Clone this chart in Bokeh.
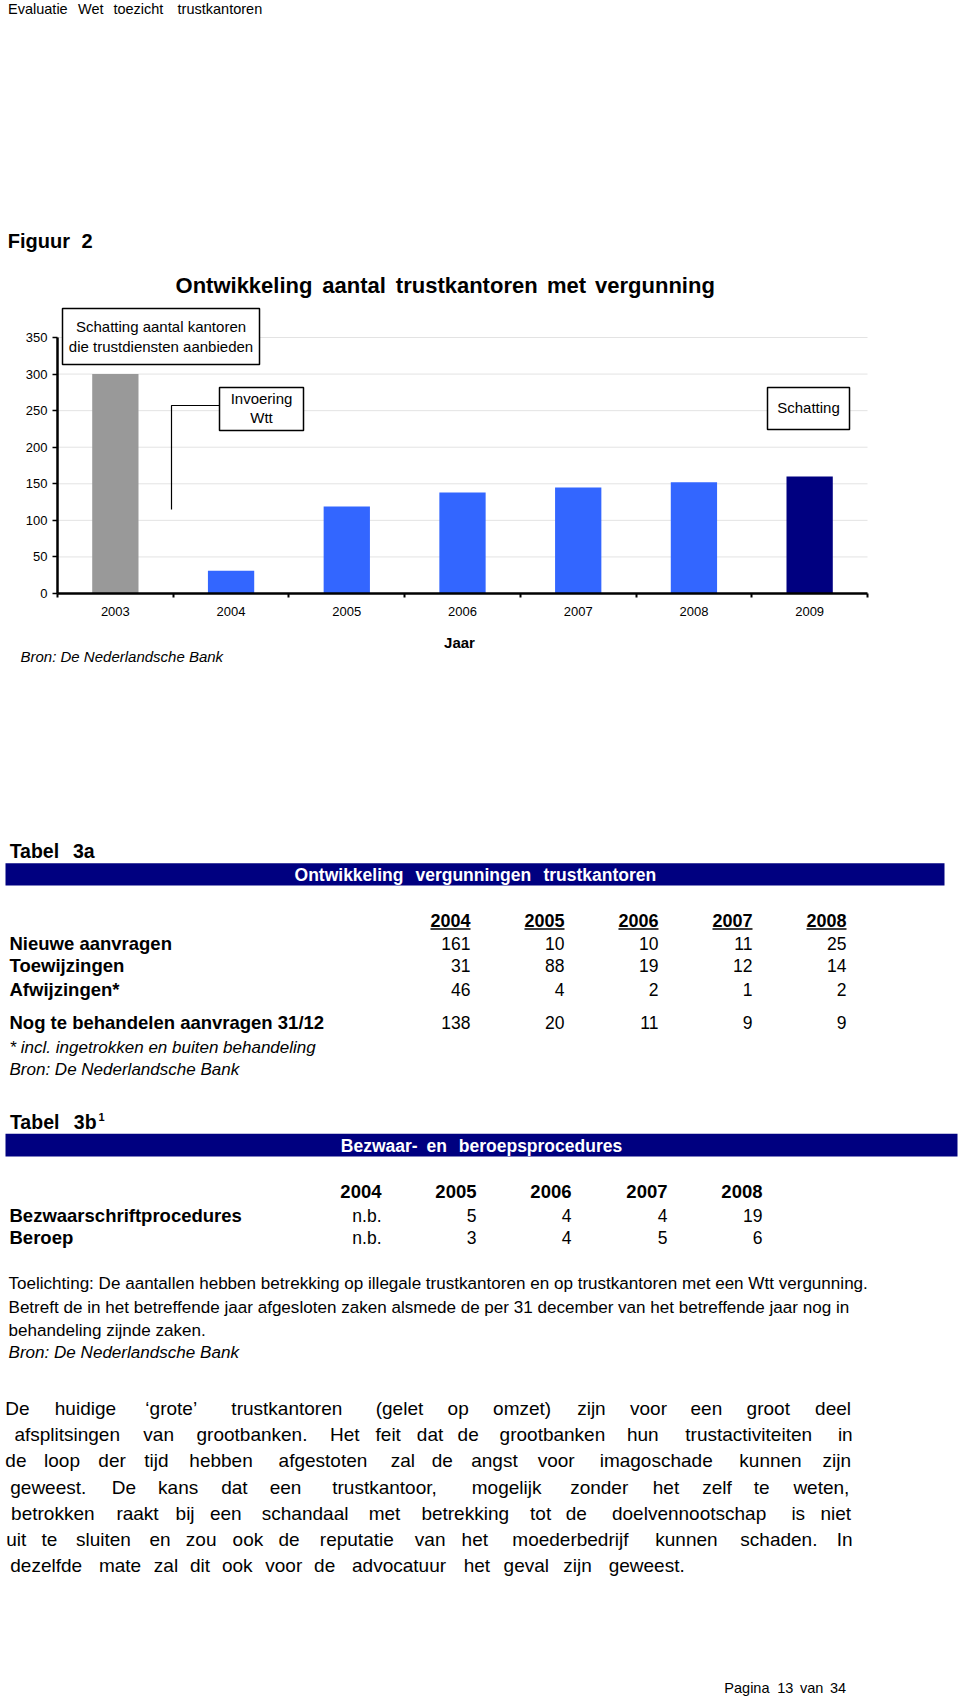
from bokeh.plotting import figure
from bokeh.models import Range1d, FixedTicker, ColumnDataSource, LinearAxis
from bokeh.core.properties import value
from bokeh.embed import file_html
from bokeh.resources import INLINE

FONT = "Liberation Sans"

# ---------------- data ----------------
years = ["2003", "2004", "2005", "2006", "2007", "2008", "2009"]
counts = [300, 31, 119, 138, 145, 152, 160]
bar_colors = ["#999999", "#3366FF", "#3366FF", "#3366FF", "#3366FF", "#3366FF", "#000080"]
y_ticks = [0, 50, 100, 150, 200, 250, 300, 350]

t3a_years = ["2004", "2005", "2006", "2007", "2008"]
t3a_labels = ["Nieuwe aanvragen", "Toewijzingen", "Afwijzingen*", "Nog te behandelen aanvragen 31/12"]
t3a_nieuwe = [161, 10, 10, 11, 25]
t3a_toewijzingen = [31, 88, 19, 12, 14]
t3a_afwijzingen = [46, 4, 2, 1, 2]
t3a_nog = [138, 20, 11, 9, 9]

t3b_years = ["2004", "2005", "2006", "2007", "2008"]
t3b_labels = ["Bezwaarschriftprocedures", "Beroep"]
t3b_bezwaar = ["n.b.", "5", "4", "4", "19"]
t3b_beroep = ["n.b.", "3", "4", "5", "6"]

body_lines = [
    "De huidige \u2018grote\u2019 trustkantoren (gelet op omzet) zijn voor een groot deel",
    "afsplitsingen van grootbanken. Het feit dat de grootbanken hun trustactiviteiten in",
    "de loop der tijd hebben afgestoten zal de angst voor imagoschade kunnen zijn",
    "geweest. De kans dat een trustkantoor, mogelijk zonder het zelf te weten,",
    "betrokken raakt bij een schandaal met betrekking tot de doelvennootschap is niet",
    "uit te sluiten en zou ook de reputatie van het moederbedrijf kunnen schaden. In",
    "dezelfde mate zal dit ook voor de advocatuur het geval zijn geweest.",
]
toelichting_lines = [
    "Toelichting: De aantallen hebben betrekking op illegale trustkantoren en op trustkantoren met een Wtt vergunning.",
    "Betreft de in het betreffende jaar afgesloten zaken alsmede de per 31 december van het betreffende jaar nog in",
    "behandeling zijnde zaken.",
]

# ---------------- font metrics (Arial / Liberation Sans) ----------------
REG = {' ': 278, '!': 278, '"': 355, "'": 191, '(': 333, ')': 333, '*': 389, ',': 278,
       '-': 333, '.': 278, '/': 278, ':': 278, ';': 278, '?': 556, '\u2018': 222, '\u2019': 222}
BOLD = {' ': 278, '*': 389, ',': 278, '-': 333, '.': 278, '/': 278, ':': 333, '(': 333, ')': 333}
for d in "0123456789":
    REG[d] = 556
    BOLD[d] = 556
for c, w in zip("ABCDEFGHIJKLMNOPQRSTUVWXYZ",
                [667, 667, 722, 722, 667, 611, 778, 722, 278, 500, 667, 556, 833, 722, 778, 667, 778, 722, 667, 611, 722, 667, 944, 667, 667, 611]):
    REG[c] = w
for c, w in zip("abcdefghijklmnopqrstuvwxyz",
                [556, 556, 500, 556, 556, 278, 556, 556, 222, 222, 500, 222, 833, 556, 556, 556, 556, 333, 500, 278, 556, 500, 722, 500, 500, 500]):
    REG[c] = w
for c, w in zip("ABCDEFGHIJKLMNOPQRSTUVWXYZ",
                [722, 722, 722, 722, 667, 611, 778, 722, 278, 556, 722, 611, 833, 722, 778, 667, 778, 722, 667, 611, 722, 667, 944, 667, 667, 611]):
    BOLD[c] = w
for c, w in zip("abcdefghijklmnopqrstuvwxyz",
                [556, 611, 556, 611, 556, 333, 611, 611, 278, 278, 556, 278, 889, 611, 611, 611, 611, 389, 556, 333, 611, 556, 778, 556, 556, 500]):
    BOLD[c] = w


def adv(ch, size, bold):
    return (BOLD if bold else REG).get(ch, 556) * size / 1000.0


def natural(text, size, bold=False):
    return sum(adv(c, size, bold) for c in text)


def tracked_words(text, x0, size, bold=False, x_end=None, track=None, justify_to=None):
    """Word centres for text set with letter-spacing `track` (and optional justification)."""
    words = text.split(" ")
    if track is None:
        track = (x_end - x0 - natural(text, size, bold)) / max(len(text) - 1, 1) if x_end is not None else 0.0
    wl = [natural(w, size, bold) + track * len(w) for w in words]
    sp = adv(" ", size, bold) + track
    total = sum(wl) + sp * (len(words) - 1) - track
    extra = 0.0
    if justify_to is not None and len(words) > 1:
        extra = (justify_to - x0 - total) / (len(words) - 1)
    centres = []
    x = x0
    for w, l in zip(words, wl):
        centres.append(x + (l - track) / 2.0)
        x += l + sp + extra
    return words, centres, track


W, H = 960, 1700
p = figure(width=W, height=H, x_range=Range1d(0, W), y_range=Range1d(H, 0),
           x_axis_type=None, y_axis_type=None, toolbar_location=None, output_backend="svg",
           min_border=0, min_border_left=0, min_border_right=0, min_border_top=0, min_border_bottom=0)
p.outline_line_color = None
p.background_fill_color = "white"
p.border_fill_color = "white"
p.title.visible = False


def put(xs, ys, texts, size, style="normal", align="left", baseline="middle", color="black"):
    src = ColumnDataSource(dict(x=list(xs), y=list(ys), t=list(texts)))
    p.text(x="x", y="y", text="t", source=src, text_font=value(FONT),
           text_font_size=value(f"{size}px"), text_font_style=value(style),
           text_align=value(align), text_baseline=value(baseline), text_color=value(color))


def put_words(text, x0, y, size, bold=False, baseline="middle", color="black", **kw):
    words, cs, tr = tracked_words(text, x0, size, bold=bold, **kw)
    put(cs, [y] * len(words), words, size, "bold" if bold else "normal", "center", baseline, color)
    return tr


# ---------------- page header ----------------
put_words("Evaluatie Wet toezicht trustkantoren", 4, 8.5, 14.5, x_end=267)
put_words("Figuur 2", 4, 240.5, 20, bold=True, x_end=92)
put_words("Ontwikkeling aantal trustkantoren met vergunning", 173, 285.3, 22, bold=True, x_end=716)

# ---------------- chart (own scales via extra ranges) ----------------
AX_LEFT, AX_RIGHT = 57.0, 867.0       # page px of x = -0.5 .. 6.5
Y0_PX, Y350_PX = 593.0, 337.0        # page px of y = 0 and y = 350
n = len(years)
ux = (AX_RIGHT - AX_LEFT) / n
cx0 = -0.5 - AX_LEFT / ux
uy = (Y0_PX - Y350_PX) / 350.0
p.extra_x_ranges = {"cx": Range1d(cx0, cx0 + W / ux)}
p.extra_y_ranges = {"cy": Range1d(-(H - Y0_PX) / uy, Y0_PX / uy)}

idx = list(range(n))
grid_vals = [v for v in y_ticks if v > 0]
p.segment(x0=[-0.5] * len(grid_vals), x1=[n - 0.5] * len(grid_vals), y0=grid_vals, y1=grid_vals,
          line_color="#e3e3e3", line_width=1, x_range_name="cx", y_range_name="cy")
p.vbar(x="x", top="top", width=0.4, fill_color="color", line_color=None,
       source=ColumnDataSource(dict(x=idx, top=counts, color=bar_colors)),
       x_range_name="cx", y_range_name="cy")

xa = LinearAxis(x_range_name="cx", y_range_name="cy", fixed_location=0, bounds=(-0.5, n - 0.5))
xa.ticker = FixedTicker(ticks=idx, minor_ticks=[i - 0.5 for i in range(n + 1)])
xa.major_label_overrides = {i: y for i, y in zip(idx, years)}
xa.major_tick_line_color = None
xa.major_tick_out = 0
xa.major_tick_in = 0
xa.minor_tick_line_color = "black"
xa.minor_tick_line_width = 2
xa.minor_tick_out = 4
xa.minor_tick_in = 0
xa.axis_line_color = "black"
xa.axis_line_width = 2.5
xa.major_label_standoff = 9
xa.major_label_text_font = FONT
xa.major_label_text_font_size = "13px"
xa.major_label_text_color = "black"
p.add_layout(xa, "below")

ya = LinearAxis(x_range_name="cx", y_range_name="cy", fixed_location=-0.5, bounds=(0, 350))
ya.ticker = FixedTicker(ticks=y_ticks)
ya.axis_line_color = "black"
ya.axis_line_width = 2.5
ya.major_tick_line_color = "black"
ya.major_tick_line_width = 1.5
ya.major_tick_out = 5
ya.major_tick_in = 0
ya.minor_tick_line_color = None
ya.major_label_standoff = 5
ya.major_label_text_font = FONT
ya.major_label_text_font_size = "13px"
ya.major_label_text_color = "black"
p.add_layout(ya, "left")

# chart annotations (page px)
p.quad(left=[62, 219, 767], right=[259, 303, 849], top=[308, 387, 387], bottom=[364, 430, 429],
       fill_color="white", line_color="black", line_width=1.5)
p.line(x=[219, 171, 171], y=[405, 405, 509], line_color="black", line_width=1.2)
put([160.5, 160.5, 261, 261, 808], [326, 345.7, 398.3, 417.3, 407.3],
    ["Schatting aantal kantoren", "die trustdiensten aanbieden", "Invoering", "Wtt", "Schatting"],
    15, align="center")
put([459], [642], ["Jaar"], 15, style="bold", align="center")
put([20], [656], ["Bron: De Nederlandsche Bank"], 15, style="italic")

# ---------------- Tabel 3a ----------------
put_words("Tabel 3a", 5, 850, 19.5, bold=True, x_end=95)
p.quad(left=[5], right=[944], top=[862.7], bottom=[885], fill_color="#000080", line_color=None)
put_words("Ontwikkeling vergunningen trustkantoren", 291, 874, 17.5, bold=True, x_end=659, color="white")

col3a = [470, 564, 658, 752, 846]
put(col3a, [920] * 5, t3a_years, 18, style="bold", align="right")
for xr, yr in zip(col3a, t3a_years):
    w = natural(yr, 18, True)
    p.line(x=[xr - w, xr], y=[928.5, 928.5], line_color="black", line_width=1.5)
rows3a_y = [943, 965, 989, 1022]
put([9] * 4, rows3a_y, t3a_labels, 18.5, style="bold")
for vals, yy in zip([t3a_nieuwe, t3a_toewijzingen, t3a_afwijzingen, t3a_nog], rows3a_y):
    put(col3a, [yy] * 5, [str(v) for v in vals], 17.5, align="right")
put([9], [1047], ["* incl. ingetrokken en buiten behandeling"], 17, style="italic")
put([9], [1069], ["Bron: De Nederlandsche Bank"], 17, style="italic")

# ---------------- Tabel 3b ----------------
put_words("Tabel 3b", 5, 1121.7, 19.5, bold=True, x_end=97)
put([98], [1116], ["1"], 11, style="bold")
p.quad(left=[5], right=[957], top=[1133.3], bottom=[1156], fill_color="#000080", line_color=None)
put_words("Bezwaar- en beroepsprocedures", 338, 1145, 17.5, bold=True, x_end=627, color="white")

col3b = [381, 476, 571, 667, 762]
put(col3b, [1191] * 5, t3b_years, 18.5, style="bold", align="right")
put([9, 9], [1215, 1237], t3b_labels, 18.5, style="bold")
put(col3b, [1215] * 5, t3b_bezwaar, 17.5, align="right")
put(col3b, [1237] * 5, t3b_beroep, 17.5, align="right")

s1 = 862.0 / natural(toelichting_lines[0], 1.0)
s2 = 841.0 / natural(toelichting_lines[1], 1.0)
ts = round((s1 + s2) / 2, 2)
put([8, 8, 8], [1283, 1307, 1330], toelichting_lines, ts)
put([8], [1352], ["Bron: De Nederlandsche Bank"], ts, style="italic")

# ---------------- body paragraph (justified) ----------------
BODY = 19
body_y = [1408, 1434, 1460, 1487, 1513, 1539, 1565]
_, _, body_track = tracked_words(body_lines[-1], 4, BODY, x_end=690)
for i, (line, yy) in enumerate(zip(body_lines, body_y)):
    if i < len(body_lines) - 1:
        put_words(line, 4, yy, BODY, track=body_track, justify_to=853)
    else:
        put_words(line, 4, yy, BODY, track=body_track)

put_words("Pagina 13 van 34", 722, 1687, 14.5, x_end=846)

open("out.html", "w").write(file_html(p, INLINE))
